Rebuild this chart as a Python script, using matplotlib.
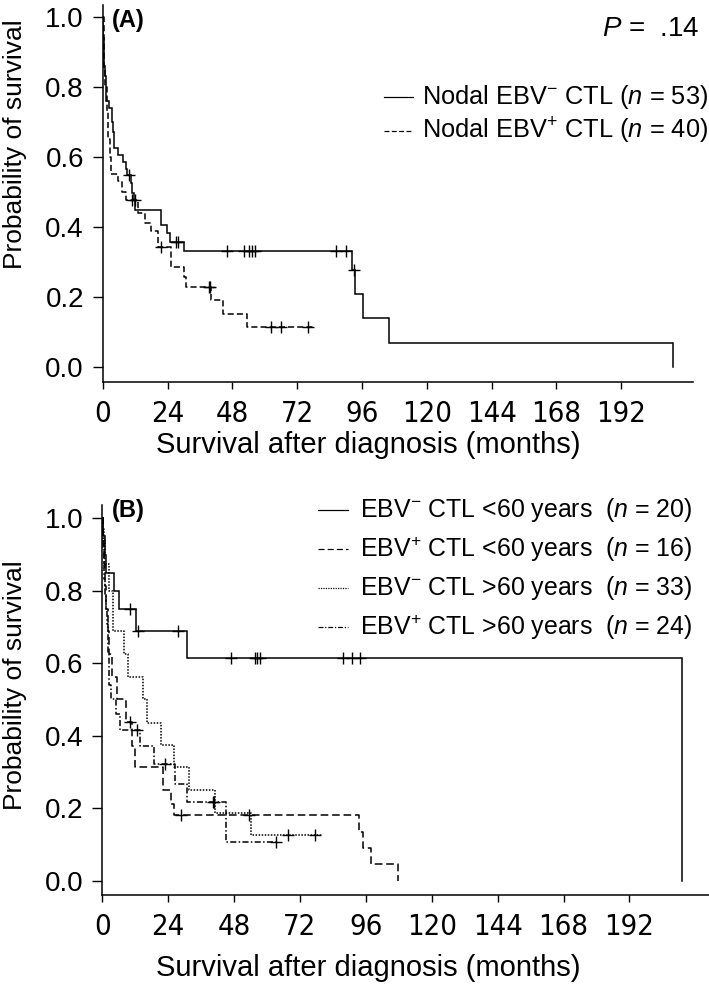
import matplotlib
matplotlib.use('Agg')
import matplotlib.pyplot as plt
from matplotlib import font_manager
from matplotlib.font_manager import FontProperties
from matplotlib.lines import Line2D
import numpy as np


def find_narrow():
    files = [f.fname for f in font_manager.fontManager.ttflist]
    prefs = ['LiberationSansNarrow-Regular', 'ArialNarrow', 'Arial Narrow', 'NimbusSansNarrow-Regular',
             'NimbusSanL-ReguCond', 'DejaVuSansCondensed.ttf']
    for p in prefs:
        for fn in files:
            if p.lower() in fn.lower().replace(' ', '') or p.lower() in fn.lower():
                return FontProperties(fname=fn)
    return None


NARROW_FP = find_narrow()

plt.rcParams['font.family'] = ['Liberation Sans', 'DejaVu Sans']
plt.rcParams['mathtext.fontset'] = 'custom'
plt.rcParams['mathtext.rm'] = 'Liberation Sans'
plt.rcParams['mathtext.it'] = 'Liberation Sans:italic'
plt.rcParams['mathtext.bf'] = 'Liberation Sans:bold'

# ---------------- data: panel A ----------------
a_neg_t = [0, 0.1, 0.2, 0.3, 0.4, 0.9, 1.2, 2.5, 3.3, 3.9, 4.2, 5.8, 7.6, 8.5, 9.0,
           10.3, 11.0, 11.7, 12.1, 21.5, 23.9, 25.1, 30.0, 92.2, 93.5, 96.3, 106.0, 211.0]
a_neg_s = [1.0, 0.98, 0.94, 0.90, 0.86, 0.83, 0.76, 0.74, 0.70, 0.67, 0.625, 0.605, 0.585,
           0.565, 0.548, 0.524, 0.495, 0.476, 0.448, 0.405, 0.381, 0.357, 0.331, 0.276,
           0.208, 0.138, 0.069, 0.0]
a_neg_cens = [9.7, 11.9, 27.0, 27.8, 45.9, 52.4, 54.2, 55.4, 56.4, 86.5, 90.2, 93.1]
a_neg_end = 211.0

a_pos_t = [0, 0.3, 0.5, 0.8, 1.7, 2.0, 2.7, 2.9, 5.8, 7.0, 8.8, 13.1, 15.5, 17.8, 20.5,
           25.4, 30.0, 30.8, 40.2, 44.4, 53.3]
a_pos_s = [1.0, 0.925, 0.85, 0.80, 0.73, 0.65, 0.60, 0.55, 0.53, 0.50, 0.475, 0.44, 0.41,
           0.388, 0.343, 0.286, 0.255, 0.229, 0.19, 0.151, 0.114]
a_pos_cens = [11.0, 21.7, 39.2, 39.8, 62.2, 66.2, 75.9]
a_pos_end = 77.8

# ---------------- data: panel B ----------------
b1_t = [0, 0.2, 0.9, 1.3, 4.3, 6.1, 12.2, 30.7, 211.0]
b1_s = [1.0, 0.95, 0.90, 0.85, 0.80, 0.75, 0.69, 0.615, 0.0]
b1_cens = [10.1, 13.1, 27.7, 46.7, 55.5, 56.2, 57.6, 87.6, 90.9, 93.9]
b1_end = 211.0

b2_t = [0, 0.3, 0.6, 1.0, 1.5, 2.0, 2.5, 3.5, 5.5, 8.5, 11.0, 12.0, 22.0, 25.0, 26.0,
        93.6, 95.1, 97.8, 107.6]
b2_s = [1.0, 0.9375, 0.875, 0.8125, 0.75, 0.6875, 0.625, 0.5625, 0.50, 0.4375, 0.37,
        0.3125, 0.25, 0.21, 0.18, 0.135, 0.09, 0.045, 0.0]
b2_cens = [10.1, 28.5, 53.3]
b2_end = 107.6

b3_t = [0, 0.3, 0.6, 1.0, 2.4, 4.0, 7.8, 9.4, 15.0, 16.3, 21.3, 26.1, 31.6, 41.1, 54.2]
b3_s = [1.0, 0.97, 0.94, 0.875, 0.80, 0.69, 0.625, 0.562, 0.50, 0.435, 0.374, 0.314,
        0.25, 0.187, 0.125]
b3_cens = [67.5, 77.3]
b3_end = 80.0

b4_t = [0, 0.2, 0.4, 0.6, 0.8, 1.0, 1.3, 1.6, 2.0, 2.5, 3.0, 5.0, 6.5, 13.6, 18.7,
        26.3, 30.8, 45.1]
b4_s = [1.0, 0.958, 0.917, 0.875, 0.833, 0.79, 0.75, 0.708, 0.625, 0.54, 0.50, 0.46,
        0.415, 0.37, 0.323, 0.267, 0.218, 0.107]
b4_cens = [12.5, 23.0, 40.2, 40.8, 63.3]
b4_end = 64.0

x_ticks = [0, 24, 48, 72, 96, 120, 144, 168, 192]
y_ticks = [0.0, 0.2, 0.4, 0.6, 0.8, 1.0]

a_labels = [r'Nodal EBV$^{-}$ CTL ($n$ = 53)', r'Nodal EBV$^{+}$ CTL ($n$ = 40)']
b_labels = [r'EBV$^{-}$ CTL <60 years  ($n$ = 20)', r'EBV$^{+}$ CTL <60 years  ($n$ = 16)',
            r'EBV$^{-}$ CTL >60 years  ($n$ = 33)', r'EBV$^{+}$ CTL >60 years  ($n$ = 24)']

# ---------------- styles ----------------
W, H = 709, 984
LW = 1.1
ST_SOLID = '-'
ST_DASH_A = (0, (4, 2))
ST_DASH_B = (0, (5, 2.5))
ST_DOT = (0, (1, 1))
ST_DASHDOT = (0, (4, 1.5, 1, 1.5))

fig = plt.figure(figsize=(W / 100, H / 100), dpi=100)


def fx(px):
    return px / W


def fy(py):
    return 1 - py / H


def km(ax, t, s, end, cens, ls):
    tt = list(t) + [end]
    ss = list(s) + [s[-1]]
    ax.step(tt, ss, where='post', color='black', lw=LW, linestyle=ls,
            solid_joinstyle='miter', dash_capstyle='butt')
    idx = np.searchsorted(np.array(t), np.array(cens), side='right') - 1
    cy = np.array(s)[idx]
    ax.plot(cens, cy, linestyle='none', marker='+', ms=9, mew=1.0, color='black')


def style_axes(ax, xmax, ymin, ymax):
    ax.set_xlim(0, xmax)
    ax.set_ylim(ymin, ymax)
    for sp in ['top', 'right']:
        ax.spines[sp].set_visible(False)
    for sp in ['left', 'bottom']:
        ax.spines[sp].set_linewidth(1.1)
    ax.set_xticks(x_ticks)
    ax.set_yticks(y_ticks)
    ax.set_yticklabels(['%.1f' % v for v in y_ticks], fontsize=20)
    if NARROW_FP is not None:
        fp = NARROW_FP.copy()
        fp.set_size(21)
        ax.set_xticklabels([str(v) for v in x_ticks], fontproperties=fp)
    else:
        ax.set_xticklabels([str(v) for v in x_ticks], fontsize=18.5)
    ax.tick_params(axis='y', direction='out', length=7, width=1.0, pad=6.5)
    ax.tick_params(axis='x', direction='out', length=5, width=1.0, pad=8)


# Panel A
axA = fig.add_axes([fx(102.7), fy(381.7), fx(693.3) - fx(102.7), fy(5) - fy(381.7)])
km(axA, a_neg_t, a_neg_s, a_neg_end, a_neg_cens, ST_SOLID)
km(axA, a_pos_t, a_pos_s, a_pos_end, a_pos_cens, ST_DASH_A)
style_axes(axA, 218.7, -0.0429, 1.0334)

# Panel B
axB = fig.add_axes([fx(102.3), fy(895), 1 - fx(102.3), fy(505) - fy(895)])
km(axB, b1_t, b1_s, b1_end, b1_cens, ST_SOLID)
km(axB, b2_t, b2_s, b2_end, b2_cens, ST_DASH_B)
km(axB, b3_t, b3_s, b3_end, b3_cens, ST_DOT)
km(axB, b4_t, b4_s, b4_end, b4_cens, ST_DASHDOT)
style_axes(axB, 221.0, -0.040, 1.0367)

# labels
fig.text(fx(15), fy(144), 'Probability of survival', rotation=90, ha='center', va='center', fontsize=19)
fig.text(fx(15), fy(685), 'Probability of survival', rotation=90, ha='center', va='center', fontsize=19)
fig.text(fx(368), fy(445), 'Survival after diagnosis (months)', ha='center', va='center', fontsize=21)
fig.text(fx(368), fy(968), 'Survival after diagnosis (months)', ha='center', va='center', fontsize=21)

fig.text(fx(112), fy(20), '(A)', ha='left', va='center', fontsize=17, fontweight='bold')
fig.text(fx(112), fy(510), '(B)', ha='left', va='center', fontsize=17, fontweight='bold')
fig.text(fx(602), fy(29), r'$P$ =  .14', ha='left', va='center', fontsize=20)

# legends
for lab, yy, ls in zip(a_labels, [97, 131], [ST_SOLID, ST_DASH_A]):
    fig.add_artist(Line2D([fx(384), fx(413)], [fy(yy), fy(yy)], color='black', lw=LW * 0.8,
                          linestyle=ls, transform=fig.transFigure))
    fig.text(fx(422), fy(yy), lab, ha='left', va='center', fontsize=18.3)

for lab, yy, ls in zip(b_labels, [510, 549, 588, 627], [ST_SOLID, ST_DASH_B, ST_DOT, ST_DASHDOT]):
    fig.add_artist(Line2D([fx(318), fx(348)], [fy(yy), fy(yy)], color='black', lw=LW * 0.8,
                          linestyle=ls, transform=fig.transFigure))
    fig.text(fx(360), fy(yy), lab, ha='left', va='center', fontsize=17.9)

fig.savefig('out.png', dpi=100)
